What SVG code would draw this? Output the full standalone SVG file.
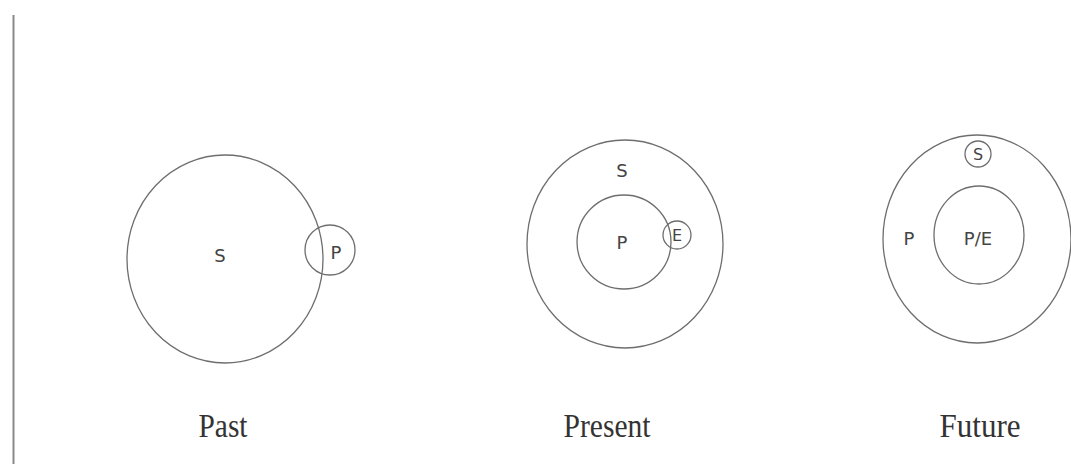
<svg xmlns="http://www.w3.org/2000/svg" width="1071" height="464" viewBox="0 0 1071 464">
<style>
.c{fill:none;stroke:#6e6e6e;stroke-width:1.3}
.h{font-family:"DejaVu Sans",sans-serif;font-size:18px;fill:#444;text-anchor:middle}
.l{font-family:"Liberation Serif",serif;font-size:33px;fill:#333;text-anchor:middle}
</style>
<rect width="1071" height="464" fill="#fff"/>
<line x1="13.5" y1="15" x2="13.5" y2="464" stroke="#8a8a8a" stroke-width="2"/>
<g id="past">
<ellipse class="c" cx="225" cy="259" rx="98" ry="104"/>
<text class="h" x="220" y="262">S</text>
</g>
<g id="past-p">
<circle class="c" cx="330" cy="250" r="25"/>
<text class="h" x="336" y="259">P</text>
</g>
<g id="present">
<ellipse class="c" cx="625" cy="244" rx="98" ry="104"/>
<text class="h" x="622" y="177">S</text>
</g>
<g id="present-p">
<circle class="c" cx="624" cy="242" r="47"/>
<text class="h" x="622" y="249">P</text>
</g>
<g id="present-e">
<circle class="c" cx="677" cy="235" r="14"/>
<text class="h" x="677" y="241" style="font-size:16px">E</text>
</g>
<g id="future">
<ellipse class="c" cx="977" cy="239" rx="94" ry="104"/>
<text class="h" x="909" y="245">P</text>
</g>
<g id="future-pe">
<ellipse class="c" cx="979" cy="235" rx="45" ry="49"/>
<text class="h" x="978" y="245">P/E</text>
</g>
<g id="future-s">
<circle class="c" cx="978" cy="154" r="13"/>
<text class="h" x="978" y="160" style="font-size:16px">S</text>
</g>
<g id="labels">
<text class="l" x="223" y="437" textLength="49" lengthAdjust="spacingAndGlyphs">Past</text>
<text class="l" x="607" y="437" textLength="87" lengthAdjust="spacingAndGlyphs">Present</text>
<text class="l" x="980" y="437" textLength="81" lengthAdjust="spacingAndGlyphs">Future</text>
</g>
</svg>
